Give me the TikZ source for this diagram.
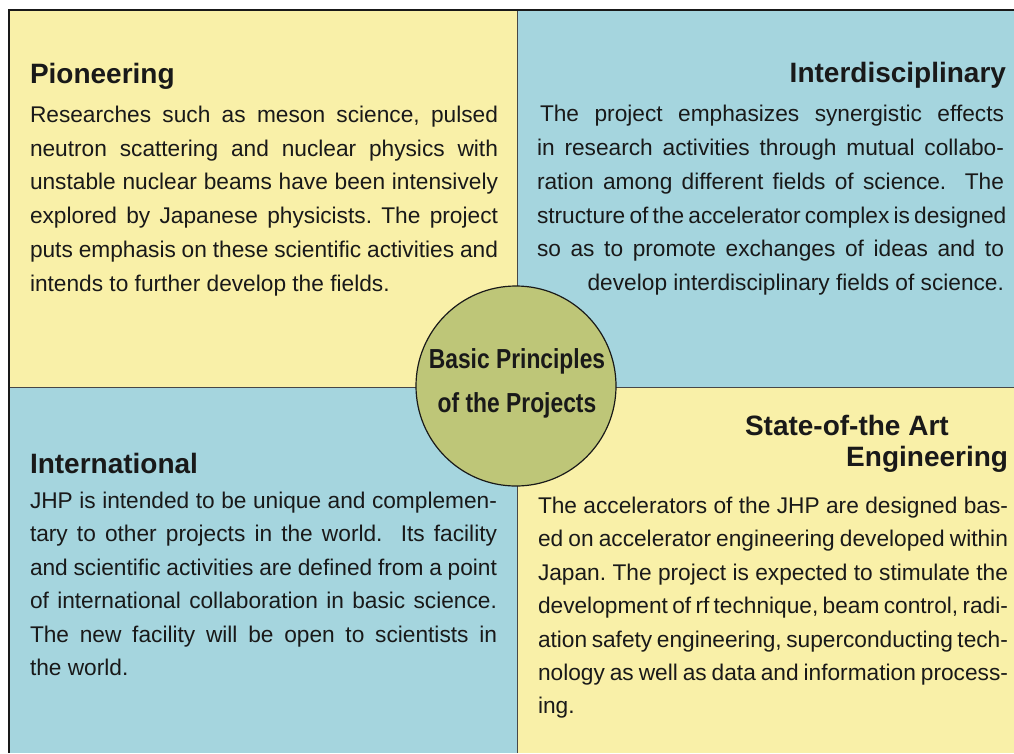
\documentclass[tikz,border=0pt]{standalone}
\usepackage{fontspec}
\setmainfont{Liberation Sans}
\newfontfamily\hubfont[FakeStretch=0.83]{Liberation Sans}
\definecolor{paleyellow}{RGB}{249,240,168}
\definecolor{paleblue}{RGB}{165,213,222}
\definecolor{hubgreen}{RGB}{190,198,120}
\definecolor{inkcol}{RGB}{25,25,25}
\frenchspacing
% a line of text spread to a given width
\newcommand{\jline}[2]{\makebox[#1][s]{#2}}
\begin{document}
\begin{tikzpicture}[x=1pt,y=-1pt,
  body/.style={inner sep=0pt,outer sep=0pt,text=inkcol,font=\fontsize{22.7}{26}\selectfont},
  head/.style={inner sep=0pt,outer sep=0pt,text=inkcol,font=\fontsize{28}{32}\selectfont\bfseries},
  hubtext/.style={inner sep=0pt,outer sep=0pt,text=inkcol,font=\hubfont\fontsize{27.5}{30}\selectfont\bfseries},
  hub/.style={circle,draw=inkcol,line width=1.2pt,fill=hubgreen,minimum size=200pt,inner sep=0pt},
  divider/.style={draw=inkcol!80,line width=0.8pt},
  frame/.style={draw=inkcol,line width=1.8pt}]
\useasboundingbox (0,0) rectangle (1014,753);
% four quadrants
\fill[paleyellow] (9,10) rectangle (517,387);
\fill[paleblue] (517,10) rectangle (1014,387);
\fill[paleblue] (9,387) rectangle (517,753);
\fill[paleyellow] (517,387) rectangle (1014,753);
\draw[divider] (517,10) -- (517,753);
\draw[divider] (9,387) -- (1014,387);
\draw[frame] (1014,10) -- (9,10) -- (9,753);

% centre disc
\node[hub] (hub) at (516,386) {};
\node[hubtext,anchor=base] (hub1) at (517,368) {Basic Principles};
\node[hubtext,anchor=base] (hub2) at (517,412) {of the Projects};

% Pioneering
\node[head,anchor=base west] (h1) at (30,83) {Pioneering};
\node[body,anchor=base west] (a1) at (30,122) {\jline{468pt}{Researches such as meson science, pulsed}};
\node[body,anchor=base west] (a2) at (30,156) {\jline{468pt}{neutron scattering and nuclear physics with}};
\node[body,anchor=base west] (a3) at (30,189) {\jline{468pt}{unstable nuclear beams have been intensively}};
\node[body,anchor=base west] (a4) at (30,223) {\jline{468pt}{explored by Japanese physicists. The project}};
\node[body,anchor=base west] (a5) at (30,257) {\jline{468pt}{puts emphasis on these scientific activities and}};
\node[body,anchor=base west] (a6) at (30,291) {intends to further develop the fields.};

% Interdisciplinary
\node[head,anchor=base east] (h2) at (1006,82) {Interdisciplinary};
\node[body,anchor=base east] (b1) at (1004,121) {\jline{464pt}{The project emphasizes synergistic effects}};
\node[body,anchor=base east] (b2) at (1004,155) {\jline{467pt}{in research activities through mutual collabo-}};
\node[body,anchor=base east] (b3) at (1004,189) {\jline{467pt}{ration among different fields of science.\ \ The}};
\node[body,anchor=base east] (b4) at (1004,223) {\jline{467pt}{structure of the accelerator complex is designed}};
\node[body,anchor=base east] (b5) at (1004,256) {\jline{467pt}{so as to promote exchanges of ideas and to}};
\node[body,anchor=base east] (b6) at (1004,290) {develop interdisciplinary fields of science.};

% International
\node[head,anchor=base west] (h3) at (30,473) {International};
\node[body,anchor=base west] (c1) at (30,508) {\jline{467pt}{JHP is intended to be unique and complemen-}};
\node[body,anchor=base west] (c2) at (30,541) {\jline{467pt}{tary to other projects in the world.\ \ Its facility}};
\node[body,anchor=base west] (c3) at (30,575) {\jline{467pt}{and scientific activities are defined from a point}};
\node[body,anchor=base west] (c4) at (30,608) {\jline{467pt}{of international collaboration in basic science.}};
\node[body,anchor=base west] (c5) at (30,642) {\jline{467pt}{The new facility will be open to scientists in}};
\node[body,anchor=base west] (c6) at (30,675) {the world.};

% State-of-the Art Engineering
\node[head,anchor=base west] (h4) at (745,435) {State-of-the Art};
\node[head,anchor=base east] (h5) at (1008,466) {Engineering};
\node[body,anchor=base west] (d1) at (538,513) {\jline{470pt}{The accelerators of the JHP are designed bas-}};
\node[body,anchor=base west] (d2) at (538,546) {\jline{470pt}{ed on accelerator engineering developed within}};
\node[body,anchor=base west] (d3) at (538,580) {\jline{470pt}{Japan. The project is expected to stimulate the}};
\node[body,anchor=base west] (d4) at (538,613) {\jline{470pt}{development of rf technique, beam control, radi-}};
\node[body,anchor=base west] (d5) at (538,647) {\jline{470pt}{ation safety engineering, superconducting tech-}};
\node[body,anchor=base west] (d6) at (538,680) {\jline{470pt}{nology as well as data and information process-}};
\node[body,anchor=base west] (d7) at (538,713) {ing.};
\end{tikzpicture}
\end{document}
